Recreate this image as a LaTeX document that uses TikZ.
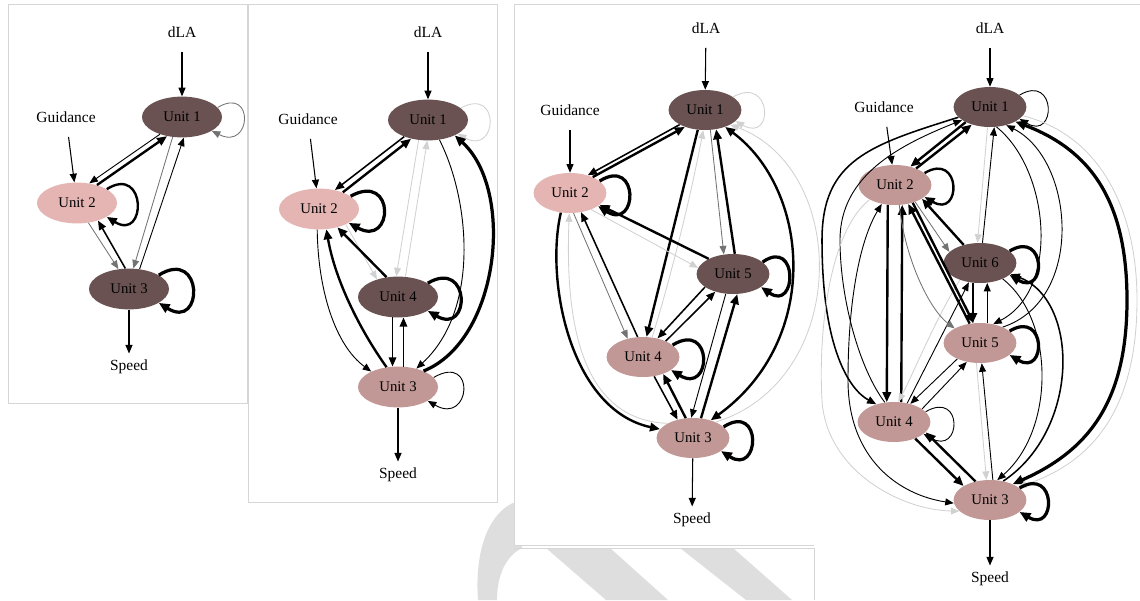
\documentclass[tikz,border=0pt]{standalone}
\usepackage{fontspec}
\setmainfont{Liberation Serif}
\usepackage{xcolor}
\usepackage{tikz}
\usetikzlibrary{shapes, arrows.meta}
\definecolor{udark}{RGB}{107,82,82}
\definecolor{upale}{RGB}{228,181,178}
\definecolor{umid}{RGB}{193,152,149}

\begin{document}
\begin{tikzpicture}[x=0.25mm, y=-0.25mm,
unit/.style={ellipse, inner sep=0pt, minimum width=20mm, minimum height=10.2mm, font=\fontsize{10.5}{12}\selectfont},
slim/.style={minimum width=18.2mm, minimum height=10mm},
ua/.style={unit, fill=udark}, ub/.style={unit, fill=upale}, uc/.style={unit, fill=umid},
lab/.style={font=\fontsize{11}{13}\selectfont, inner sep=1pt},
>={Triangle[length=1.9mm 1, width=1.5mm 1]},
wa/.style={->, line width=0.65pt},
wb/.style={->, line width=1.1pt},
wc/.style={->, line width=1.7pt},
wd/.style={->, line width=2.3pt},
wg/.style={->, line width=0.6pt, black!55},
wl/.style={->, line width=0.6pt, black!18},
feed/.style={->, line width=0.75pt, shorten <=3.2mm},
tospeed/.style={->, line width=0.75pt, shorten >=1.2mm},
frame/.style={draw=black!16, line width=0.6pt, fill=white},
wmark/.style={fill=black!13}]

\useasboundingbox (0,0) rectangle (1140,600);
\fill[wmark] (478,600) .. controls (474,545) and (492,506) .. (522,500) -- (522,548) .. controls (506,556) and (497,575) .. (497,600) -- cycle;
\fill[wmark] (546,548) -- (610,548) -- (668,600) -- (606,600) -- cycle;
\fill[wmark] (680,548) -- (733,548) -- (792,600) -- (746,600) -- cycle;
\draw[frame] (8,4) rectangle (247,403);
\draw[frame] (248,4) rectangle (497,502);
\fill[white] (514,4) rectangle (814,545);
\draw[black!16, line width=0.6pt] (514,545) -- (514,4) -- (1140,4);
\draw[black!16, line width=0.6pt] (514,545) -- (814,545);
\draw[black!16, line width=0.6pt] (514,548) -- (814,548) -- (814,600);

\node[lab] (a0) at (182,32) {dLA};
\node[ua] (a1) at (182,117) {Unit 1};
\node[lab] (ag) at (66,117) {Guidance};
\node[ub] (a2) at (77,203) {Unit 2};
\node[ua] (a3) at (129,289) {Unit 3};
\node[lab] (as) at (129,367) {Speed};
\draw[feed] (a0) -- (a1);
\draw[feed] (ag) -- (a2);
\draw[tospeed] (a3) -- (as);
\draw[wg] (a1.15) .. controls +(37,-22) and +(40,20) .. (a1.-25);
\draw[wa] (a1.218) -- (a2.58);
\draw[wc] (a2.42) -- (a1.232);
\draw[wc] (a2.25) .. controls +(40,-25) and +(40,25) .. (a2.-25);
\draw[wg] (a1.245) -- (a3.78);
\draw[wa] (a3.62) -- (a1.275);
\draw[wg] (a2.-60) -- (a3.118);
\draw[wb] (a3.100) -- (a2.-40);
\draw[wd] (a3.25) .. controls +(45,-28) and +(45,28) .. (a3.-25);

\node[lab] (b0) at (428,32) {dLA};
\node[ua] (b1) at (428,120) {Unit 1};
\node[lab] (bg) at (308,119) {Guidance};
\node[ub] (b2) at (319,209) {Unit 2};
\node[ua] (b4) at (398,297) {Unit 4};
\node[uc] (b3) at (398,387) {Unit 3};
\node[lab] (bs) at (398,475) {Speed};
\draw[feed] (b0) -- (b1);
\draw[feed] (bg) -- (b2);
\draw[tospeed] (b3) -- (bs);
\draw[wl] (b1.20) .. controls +(40,-22) and +(40,22) .. (b1.-25);
\draw[wb] (b1.215) -- (b2.50);
\draw[wc] (b2.35) -- (b1.228);
\draw[wd] (b2.22) .. controls +(45,-25) and +(45,25) .. (b2.-25);
\draw[wl] (b1.245) -- (b4.95);
\draw[wl] (b4.70) -- (b1.268);
\draw[wa] (b1.-60) .. controls (470,200) and (480,310) .. (b3.45);
\draw[wd] (b3.32) .. controls (500,340) and (515,190) .. (b1.-30);
\draw[wl] (b2.-30) -- (b4.140);
\draw[wc] (b4.120) -- (b2.-45);
\draw[wd] (b4.25) .. controls +(43,-25) and +(43,25) .. (b4.-25);
\draw[wa] (b2.-95) .. controls (318,290) and (335,345) .. (b3.150);
\draw[wc] (b3.120) .. controls (360,330) and (335,280) .. (b2.-70);
\draw[wb] (b4.-105) -- (b3.105);
\draw[wb] (b3.75) -- (b4.-75);
\draw[wa] (b3.15) .. controls +(43,-25) and +(43,25) .. (b3.-25);

\node[lab] (c0) at (706,28) {dLA};
\node[ua, slim] (c1) at (705,110) {Unit 1};
\node[lab] (cg) at (570,110) {Guidance};
\node[ub, slim] (c2) at (570,193) {Unit 2};
\node[ua, slim] (c5) at (733,274) {Unit 5};
\node[uc, slim] (c4) at (643,357) {Unit 4};
\node[uc, slim] (c3) at (693,438) {Unit 3};
\node[lab] (cs) at (692,520) {Speed};
\draw[feed] (c0) -- (c1);
\draw[feed] (cg) -- (c2);
\draw[tospeed] (c3) -- (cs);
\draw[wl] (c1.25) .. controls +(39,-22) and +(39,22) .. (c1.-20);
\draw[wb] (c1.210) -- (c2.45);
\draw[wc] (c2.35) -- (c1.220);
\draw[wd] (c2.22) .. controls +(40,-25) and +(40,25) .. (c2.-25);
\draw[wc] (c1.250) -- (c4.80);
\draw[wl] (c4.65) .. controls (670,280) and (690,200) .. (c1.265);
\draw[wg] (c1.285) -- (c5.115);
\draw[wc] (c5.85) -- (c1.300);
\draw[wc,<->] (c1.-40) .. controls (810,190) and (822,340) .. (c3.45);
\draw[wl] (c3.35) .. controls (850,380) and (850,170) .. (c1.-30);
\draw[wl] (c2.-38) -- (c5.170);
\draw[wc] (c5.148) -- (c2.-22);
\draw[wg] (c2.-80) -- (c4.130);
\draw[wb] (c4.105) -- (c2.-60);
\draw[wc] (c2.-115) .. controls (545,280) and (570,410) .. (c3.165);
\draw[wl] (c3.150) .. controls (580,420) and (565,320) .. (c2.-92);
\draw[wd] (c4.22) .. controls +(41,-25) and +(41,25) .. (c4.-25);
\draw[wd] (c5.22) .. controls +(36,-25) and +(36,25) .. (c5.-25);
\draw[wb] (c5.205) -- (c4.52);
\draw[wb] (c4.35) -- (c5.225);
\draw[wa] (c5.250) -- (c3.95);
\draw[wc] (c3.68) -- (c5.-78);
\draw[wb] (c4.-60) -- (c3.130);
\draw[wc] (c3.110) -- (c4.-40);
\draw[wd] (c3.20) .. controls +(39,-25) and +(39,25) .. (c3.-25);

\node[lab] (d0) at (990,28) {dLA};
\node[ua, slim] (d1) at (990,107) {Unit 1};
\node[lab] (dg) at (884,107) {Guidance};
\node[uc, slim] (d2) at (895,185) {Unit 2};
\node[ua, slim] (d6) at (980,263) {Unit 6};
\node[uc, slim] (d5) at (980,343) {Unit 5};
\node[uc, slim] (d4) at (894,422) {Unit 4};
\node[uc, slim] (d3) at (990,500) {Unit 3};
\node[lab] (ds) at (990,579) {Speed};
\draw[feed] (d0) -- (d1);
\draw[feed] (dg) -- (d2);
\draw[tospeed] (d3) -- (ds);
\draw[wa] (d1.22) .. controls +(37,-22) and +(37,22) .. (d1.-22);
\draw[wc] (d1.212) -- (d2.50);
\draw[wc] (d2.38) -- (d1.224);
\draw[wc] (d2.22) .. controls +(37,-22) and +(37,22) .. (d2.-22);
\draw[wb] (d1.198) .. controls (870,145) and (822,160) .. (822,240) .. controls (822,350) and (850,390) .. (d4.135);
\draw[wa] (d4.115) .. controls (860,370) and (840,300) .. (840,240) .. controls (840,175) and (900,145) .. (d1.205);
\draw[wa,<->] (d2.235) .. controls (860,240) and (848,300) .. (848,380) .. controls (848,460) and (900,495) .. (d3.185);
\draw[wl] (d2.210) .. controls (830,230) and (818,330) .. (822,400) .. controls (826,470) and (900,510) .. (d3.200);
\draw[wc] (d2.250) -- (d4.110);
\draw[wc] (d4.70) -- (d2.290);
\draw[wa] (d4.55) -- (d6.240);
\draw[wl] (d6.220) .. controls (935,320) and (915,370) .. (d4.78);
\draw[wg] (d2.-40) -- (d6.160);
\draw[wc] (d6.132) -- (d2.-27);
\draw[wc] (d5.118) -- (d2.-55);
\draw[wc] (d2.-45) -- (d5.108);
\draw[wg] (d2.-78) .. controls (905,260) and (930,310) .. (d5.150);
\draw[wl] (d1.263) -- (d6.97);
\draw[wa] (d6.83) -- (d1.282);
\draw[wd] (d6.22) .. controls +(37,-22) and +(37,22) .. (d6.-22);
\draw[wc] (d6.250) -- (d5.110);
\draw[wa] (d5.70) -- (d6.290);
\draw[wd] (d5.22) .. controls +(37,-22) and +(37,22) .. (d5.-22);
\draw[wa] (d5.215) -- (d4.48);
\draw[wa] (d4.25) -- (d5.235);
\draw[wa] (d4.18) .. controls +(38,-22) and +(38,22) .. (d4.-22);
\draw[wc] (d4.-38) -- (d3.152);
\draw[wc] (d3.128) -- (d4.-18);
\draw[wa] (d3.82) -- (d5.-85);
\draw[wl] (d5.-100) -- (d3.100);
\draw[wa] (d6.-35) .. controls (1055,320) and (1055,430) .. (d3.70);
\draw[wb] (d3.55) .. controls (1080,430) and (1080,300) .. (d6.-20);
\draw[wa] (d1.-72) .. controls (1050,170) and (1060,290) .. (d5.55);
\draw[wa] (d5.35) .. controls (1085,300) and (1075,160) .. (d1.-48);
\draw[wd,<->] (d1.-30) .. controls (1090,150) and (1127,200) .. (1127,300) .. controls (1127,400) and (1090,450) .. (d3.35);
\draw[wl] (d1.-15) .. controls (1100,135) and (1137,210) .. (1137,300) .. controls (1137,400) and (1100,460) .. (d3.25);
\draw[wd] (d3.22) .. controls +(37,-22) and +(37,22) .. (d3.-22);
\end{tikzpicture}
\end{document}
